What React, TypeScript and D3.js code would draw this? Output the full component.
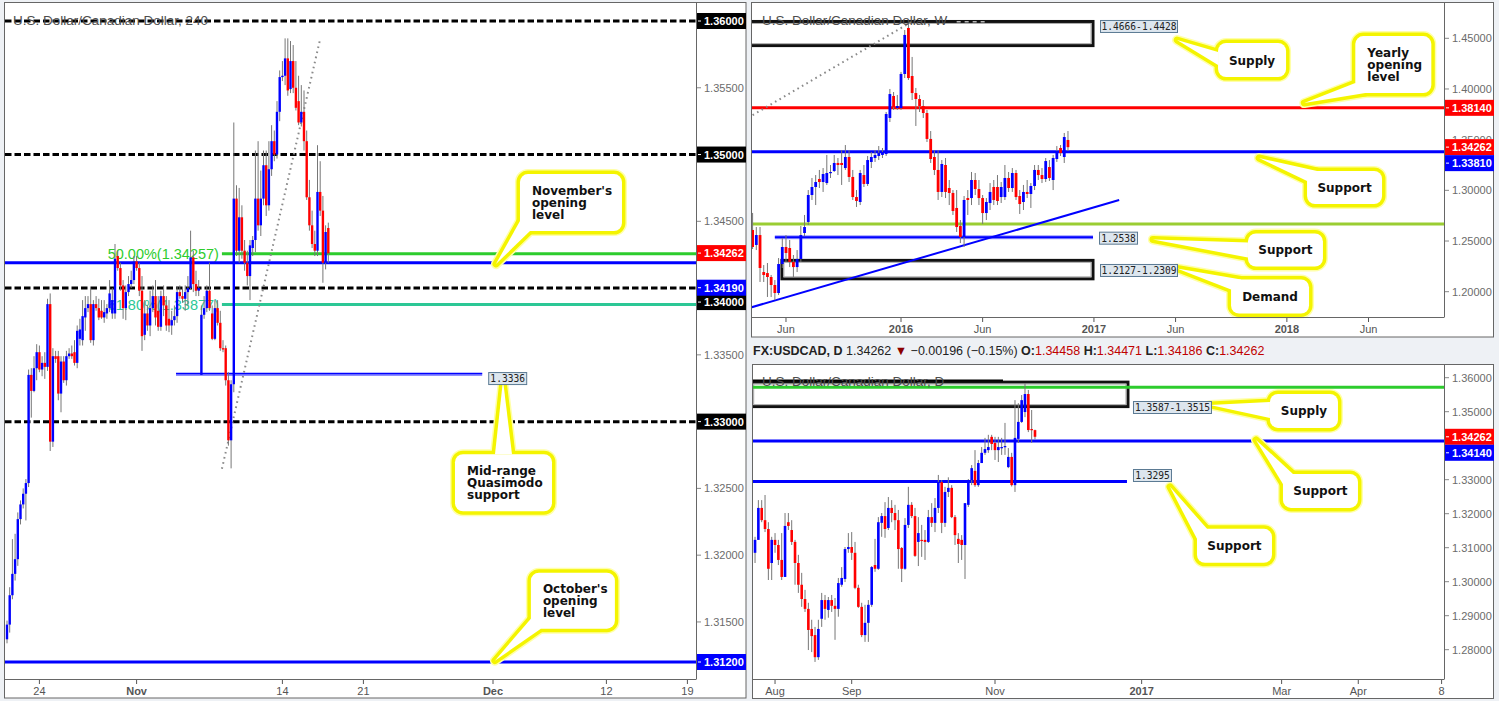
import React from 'react';
import * as d3 from 'd3';

type OHLC = [number, number, number, number];

// ================= 4H panel data =================
const h4Candles: OHLC[] = [
  [1.3137, 1.3151, 1.3134, 1.3148], [1.3148, 1.3176, 1.3142, 1.317], [1.317, 1.3212, 1.3167, 1.3186],
  [1.3186, 1.3216, 1.3181, 1.3197], [1.3197, 1.3232, 1.3192, 1.3227], [1.3227, 1.3241, 1.3223, 1.3238],
  [1.3238, 1.325, 1.3235, 1.3246], [1.3246, 1.3257, 1.3226, 1.3254], [1.3254, 1.3339, 1.3251, 1.3335],
  [1.3335, 1.334, 1.3303, 1.3323], [1.3323, 1.3349, 1.3322, 1.334], [1.334, 1.3358, 1.3331, 1.3352],
  [1.3352, 1.3357, 1.3337, 1.3339], [1.3339, 1.3349, 1.3334, 1.3344], [1.3344, 1.3352, 1.3332, 1.3341],
  [1.3341, 1.3392, 1.3338, 1.3388], [1.3388, 1.3396, 1.3278, 1.3285], [1.3285, 1.3355, 1.3281, 1.3349],
  [1.3349, 1.3353, 1.3344, 1.3347], [1.3349, 1.3353, 1.3316, 1.3321], [1.3321, 1.3349, 1.3307, 1.3345],
  [1.3345, 1.3349, 1.3329, 1.3331], [1.3331, 1.3353, 1.3327, 1.3349], [1.3349, 1.3355, 1.3347, 1.3351],
  [1.3351, 1.3357, 1.3347, 1.3349], [1.3352, 1.3361, 1.3342, 1.3344], [1.3344, 1.3372, 1.334, 1.3368],
  [1.3362, 1.3377, 1.3357, 1.3369], [1.3361, 1.3391, 1.3357, 1.3379], [1.3378, 1.3394, 1.3368, 1.3385],
  [1.3385, 1.3394, 1.3382, 1.3388], [1.3388, 1.34, 1.3359, 1.3361], [1.3361, 1.3391, 1.3357, 1.3388],
  [1.3388, 1.3394, 1.3383, 1.3385], [1.3385, 1.3392, 1.3376, 1.3378], [1.3383, 1.3391, 1.3377, 1.3378],
  [1.3378, 1.3391, 1.3374, 1.3382], [1.3381, 1.3388, 1.3377, 1.3385], [1.3385, 1.3406, 1.3382, 1.3396],
  [1.3381, 1.34, 1.3377, 1.3391], [1.3381, 1.3433, 1.3377, 1.3422], [1.3424, 1.3428, 1.3413, 1.3415],
  [1.3415, 1.3419, 1.3398, 1.3402], [1.3402, 1.3406, 1.3377, 1.3385], [1.3385, 1.3402, 1.3376, 1.3397],
  [1.3397, 1.3409, 1.3394, 1.3403], [1.3403, 1.3413, 1.34, 1.3406], [1.3406, 1.3424, 1.3403, 1.342],
  [1.342, 1.3424, 1.3413, 1.3415], [1.3415, 1.3419, 1.3394, 1.3398], [1.3398, 1.3409, 1.3353, 1.3364],
  [1.3365, 1.3391, 1.3361, 1.3381], [1.3381, 1.3387, 1.3368, 1.3372], [1.3372, 1.3398, 1.3364, 1.3385],
  [1.3385, 1.3402, 1.3382, 1.3394], [1.3394, 1.3406, 1.3372, 1.3378], [1.3383, 1.3394, 1.3368, 1.3371],
  [1.3371, 1.3398, 1.3368, 1.3394], [1.3394, 1.3402, 1.3379, 1.3387], [1.3387, 1.3394, 1.3368, 1.3372],
  [1.3377, 1.3391, 1.3367, 1.3372], [1.3372, 1.3383, 1.3365, 1.3376], [1.3376, 1.3387, 1.3372, 1.3379],
  [1.3379, 1.3401, 1.3374, 1.3397], [1.3397, 1.3402, 1.3392, 1.3394], [1.3394, 1.34, 1.3389, 1.3392],
  [1.3392, 1.3402, 1.3383, 1.3397], [1.3397, 1.3409, 1.3387, 1.34], [1.34, 1.3443, 1.3399, 1.3423],
  [1.3423, 1.3428, 1.3397, 1.3403], [1.3403, 1.3413, 1.3394, 1.3398], [1.3398, 1.3406, 1.3394, 1.34],
  [1.3335, 1.3387, 1.3335, 1.338], [1.338, 1.3394, 1.3377, 1.3385], [1.3385, 1.3402, 1.3382, 1.3398],
  [1.3398, 1.3419, 1.3383, 1.3385], [1.3381, 1.3387, 1.3361, 1.3362], [1.3362, 1.3391, 1.3361, 1.3385],
  [1.3385, 1.3391, 1.3372, 1.3374], [1.3374, 1.3383, 1.3353, 1.3355], [1.3355, 1.3361, 1.3352, 1.3354],
  [1.3355, 1.3357, 1.3327, 1.3331], [1.3331, 1.3337, 1.3282, 1.3286], [1.3286, 1.3331, 1.3265, 1.3328],
  [1.3328, 1.3524, 1.3322, 1.3467], [1.3467, 1.3477, 1.3424, 1.3428], [1.3428, 1.3475, 1.3419, 1.3453],
  [1.3453, 1.3462, 1.3422, 1.3428], [1.3428, 1.3436, 1.3413, 1.3419], [1.3419, 1.3428, 1.3402, 1.3409],
  [1.3409, 1.3436, 1.3391, 1.3432], [1.343, 1.3439, 1.3424, 1.3436], [1.3436, 1.3503, 1.3427, 1.3467],
  [1.3467, 1.351, 1.3443, 1.3447], [1.3447, 1.3488, 1.3439, 1.3467], [1.3467, 1.3503, 1.3462, 1.3492],
  [1.3492, 1.3503, 1.3454, 1.3462], [1.3462, 1.351, 1.3458, 1.3489], [1.3489, 1.3522, 1.3484, 1.351],
  [1.351, 1.3518, 1.3495, 1.35], [1.35, 1.354, 1.3497, 1.3532], [1.3532, 1.3563, 1.3525, 1.3558],
  [1.3558, 1.357, 1.3555, 1.3559], [1.3559, 1.3587, 1.3552, 1.3572], [1.3572, 1.3587, 1.3544, 1.3548],
  [1.3549, 1.3585, 1.3546, 1.357], [1.357, 1.3582, 1.3546, 1.355], [1.355, 1.357, 1.3533, 1.3535],
  [1.354, 1.3559, 1.3522, 1.3524], [1.3524, 1.3552, 1.3521, 1.3532], [1.3532, 1.3548, 1.3503, 1.351],
  [1.351, 1.3518, 1.3466, 1.3468], [1.3468, 1.3481, 1.3443, 1.3447], [1.3447, 1.3458, 1.343, 1.3433],
  [1.3433, 1.3443, 1.3424, 1.3428], [1.3428, 1.3507, 1.3424, 1.3472], [1.3472, 1.3495, 1.3454, 1.3458],
  [1.3458, 1.3469, 1.3404, 1.3419], [1.3419, 1.3447, 1.3414, 1.3442], [1.3445, 1.3449, 1.3419, 1.3426],
];
const h4TickBars = [12, 48, 102, 132, 180, 222, 252];
const h4TickLabels = ['24', 'Nov', '14', '21', 'Dec', '12', '19'];
const h4BoldTicks = ['Nov', 'Dec'];
const h4GridLabels = [1.355, 1.345, 1.335, 1.325, 1.32, 1.315];
const h4RoundLevels = [1.36, 1.35, 1.34, 1.33];
const h4LastPrice = 1.34262;
const h4NovOpen = 1.3419;
const h4OctOpen = 1.312;
const h4Qm = 1.3336;
const h4QmBars = [62.6, 176];
const h4FibLow = 1.32647;
const h4FibHigh = 1.35867;
const h4FibBars = [79.6, 116];
const h4FibRatios = [0.5, 0.618];

// ================= Weekly panel data =================
const wkCandles: OHLC[] = [
  [1.2609, 1.2777, 1.2421, 1.2441], [1.2461, 1.2638, 1.2411, 1.2559], [1.2559, 1.2638, 1.2096, 1.2234],
  [1.2194, 1.2263, 1.2096, 1.2165], [1.2184, 1.2283, 1.1948, 1.2145], [1.2145, 1.2165, 1.1948, 1.2066],
  [1.2066, 1.2115, 1.1918, 1.1987], [1.1987, 1.2332, 1.1967, 1.2273], [1.2273, 1.253, 1.2234, 1.2441],
  [1.2441, 1.2559, 1.2293, 1.2382], [1.2431, 1.251, 1.2243, 1.2293], [1.2293, 1.2362, 1.2135, 1.2243],
  [1.2243, 1.2411, 1.2194, 1.2323], [1.2323, 1.2648, 1.2293, 1.2559], [1.2579, 1.2757, 1.2549, 1.2638],
  [1.2688, 1.3003, 1.2658, 1.2954], [1.2954, 1.3122, 1.2905, 1.3033], [1.3033, 1.3151, 1.2855, 1.3082],
  [1.3112, 1.3201, 1.3023, 1.3082], [1.3082, 1.322, 1.2984, 1.3161], [1.3072, 1.3349, 1.3053, 1.3171],
  [1.3171, 1.325, 1.3122, 1.3181], [1.3191, 1.3349, 1.3181, 1.327], [1.327, 1.3319, 1.3151, 1.325],
  [1.327, 1.3398, 1.3053, 1.325], [1.322, 1.3447, 1.3201, 1.3329], [1.3329, 1.3398, 1.3082, 1.3132],
  [1.3132, 1.3201, 1.2905, 1.2934], [1.2934, 1.3003, 1.2836, 1.2895], [1.2885, 1.3201, 1.2855, 1.3171],
  [1.3151, 1.325, 1.3033, 1.3063], [1.3063, 1.3339, 1.3043, 1.3299], [1.328, 1.3378, 1.322, 1.3329],
  [1.3319, 1.3398, 1.328, 1.3349], [1.3339, 1.3437, 1.3299, 1.3368], [1.3349, 1.3418, 1.3319, 1.3378],
  [1.3358, 1.3773, 1.3339, 1.3753], [1.3714, 1.4, 1.3674, 1.395], [1.3931, 1.397, 1.3793, 1.3822],
  [1.3812, 1.3941, 1.3793, 1.3832], [1.3812, 1.4168, 1.3793, 1.4148], [1.4148, 1.4582, 1.4108, 1.4533],
  [1.4602, 1.464, 1.4089, 1.4108], [1.4128, 1.4316, 1.3891, 1.396], [1.396, 1.401, 1.3635, 1.3901],
  [1.3901, 1.3941, 1.3773, 1.3832], [1.3832, 1.3891, 1.3714, 1.3763], [1.3763, 1.3793, 1.3477, 1.3507],
  [1.3507, 1.3585, 1.327, 1.3309], [1.3329, 1.3398, 1.3151, 1.3201], [1.3201, 1.3398, 1.2905, 1.2984],
  [1.2984, 1.3299, 1.2934, 1.326], [1.325, 1.3319, 1.2924, 1.2984], [1.3023, 1.3102, 1.2855, 1.2974],
  [1.2974, 1.3003, 1.2757, 1.2796], [1.2826, 1.3003, 1.2589, 1.2638], [1.2648, 1.2707, 1.248, 1.254],
  [1.254, 1.2944, 1.2441, 1.2905], [1.2924, 1.3003, 1.2757, 1.2905], [1.2924, 1.3181, 1.2855, 1.3102],
  [1.3102, 1.3171, 1.2954, 1.3013], [1.3013, 1.3102, 1.2855, 1.2924], [1.2924, 1.2954, 1.2668, 1.2776],
  [1.2776, 1.2924, 1.2707, 1.2885], [1.2875, 1.3072, 1.2806, 1.2984], [1.3033, 1.3102, 1.2855, 1.2905],
  [1.3033, 1.3151, 1.2855, 1.2895], [1.2934, 1.3082, 1.2875, 1.3033], [1.2934, 1.325, 1.2905, 1.3122],
  [1.3122, 1.3181, 1.2984, 1.3023], [1.3023, 1.322, 1.2984, 1.3171], [1.3171, 1.3201, 1.2905, 1.2934],
  [1.2944, 1.3003, 1.2767, 1.2865], [1.2885, 1.3053, 1.2806, 1.2984], [1.2984, 1.3102, 1.2924, 1.2964],
  [1.2964, 1.3072, 1.2826, 1.3043], [1.3043, 1.325, 1.3003, 1.3201], [1.3201, 1.325, 1.3102, 1.3151],
  [1.3151, 1.322, 1.3072, 1.3112], [1.3112, 1.3319, 1.3082, 1.3289], [1.323, 1.3299, 1.3092, 1.3122],
  [1.3102, 1.3349, 1.3003, 1.3319], [1.3309, 1.3437, 1.328, 1.3388], [1.3418, 1.3447, 1.3339, 1.3368],
  [1.3329, 1.3566, 1.327, 1.3526], [1.3497, 1.3585, 1.3388, 1.3426],
];
const wkTickBars = [9, 40, 62, 92, 114, 144, 166];
const wkTickLabels = ['Jun', '2016', 'Jun', '2017', 'Jun', '2018', 'Jun'];
const wkBoldTicks = ['2016', '2017', '2018'];
const wkGridLabels = [1.45, 1.4, 1.35, 1.3, 1.25, 1.2];
const wkLastPrice = 1.34262;
const wkYearlyOpen = 1.3814;
const wkSupport = 1.3381;
const wkGreenLevel = 1.2668;
const wkSupport2 = 1.2538;
const wkSupport2Bars = [6, 91.75];
const wkSupplyZone = [1.4428, 1.4666];
const wkSupplyBars = [-1, 91.75];
const wkDemandZone = [1.2127, 1.2309];
const wkDemandBars = [7.9, 91.75];
const wkTrendBars = [-0.2, 98.8];
const wkTrendPrices = [1.1847, 1.2905];
const wkDottedBars = [0, 44.6];
const wkDottedPrices = [1.3742, 1.47];
const wkDottedTailBars = [55, 63.2];
const wkDottedTailPrice = 1.4663;

// ================= Daily panel data =================
const dCandles: OHLC[] = [
  [1.3085, 1.3132, 1.3055, 1.3123], [1.3123, 1.324, 1.3123, 1.3217], [1.3217, 1.324, 1.3175, 1.3181],
  [1.3181, 1.3255, 1.3146, 1.3155], [1.3155, 1.3175, 1.3005, 1.3038], [1.3055, 1.3132, 1.3005, 1.3123],
  [1.3123, 1.3143, 1.3085, 1.3108], [1.3108, 1.3123, 1.3049, 1.3064], [1.3064, 1.3143, 1.3005, 1.3014],
  [1.3014, 1.3202, 1.3014, 1.3164], [1.3175, 1.3202, 1.3152, 1.3164], [1.3152, 1.3181, 1.3108, 1.3117],
  [1.3117, 1.3123, 1.2991, 1.3055], [1.3055, 1.3079, 1.2967, 1.2991], [1.2991, 1.3026, 1.2926, 1.2949],
  [1.2949, 1.2976, 1.2911, 1.292], [1.292, 1.2938, 1.2799, 1.2858], [1.2861, 1.2888, 1.2793, 1.284],
  [1.2843, 1.2867, 1.2764, 1.2778], [1.2778, 1.2888, 1.277, 1.2861], [1.2891, 1.2967, 1.2867, 1.2946],
  [1.2946, 1.2961, 1.2888, 1.292], [1.2917, 1.2955, 1.2894, 1.2946], [1.2946, 1.2961, 1.2911, 1.2929],
  [1.2929, 1.2952, 1.2829, 1.292], [1.292, 1.3011, 1.2897, 1.2996], [1.2991, 1.3043, 1.2985, 1.3011],
  [1.3008, 1.3102, 1.2999, 1.3096], [1.3096, 1.3143, 1.3085, 1.3102], [1.3102, 1.3146, 1.3064, 1.3085],
  [1.3085, 1.3117, 1.2978, 1.2982], [1.2982, 1.2991, 1.2923, 1.2926], [1.2926, 1.2938, 1.2837, 1.2843],
  [1.2843, 1.2932, 1.2823, 1.2879], [1.2879, 1.2946, 1.2823, 1.2932], [1.2932, 1.3046, 1.2926, 1.3043],
  [1.3049, 1.3126, 1.3029, 1.3038], [1.3038, 1.319, 1.3035, 1.3175], [1.3173, 1.3202, 1.3132, 1.3193],
  [1.3193, 1.3234, 1.3129, 1.3155], [1.3158, 1.3249, 1.3152, 1.3217], [1.3217, 1.324, 1.3175, 1.3202],
  [1.3202, 1.3226, 1.3152, 1.3181], [1.3181, 1.3211, 1.3038, 1.3096], [1.3099, 1.3102, 1.2999, 1.3038],
  [1.3038, 1.3187, 1.3035, 1.3167], [1.3167, 1.3279, 1.3158, 1.3226], [1.3226, 1.3234, 1.3187, 1.3193],
  [1.3193, 1.3217, 1.3073, 1.3076], [1.3117, 1.319, 1.3046, 1.3143], [1.3123, 1.3167, 1.3073, 1.312],
  [1.3123, 1.3152, 1.3064, 1.3117], [1.3117, 1.3211, 1.3114, 1.319], [1.319, 1.3231, 1.3161, 1.3173],
  [1.3173, 1.3246, 1.3146, 1.3217], [1.3217, 1.3314, 1.3202, 1.3293], [1.3293, 1.3299, 1.3143, 1.3173],
  [1.3173, 1.3279, 1.3161, 1.3264], [1.3264, 1.3307, 1.3249, 1.3276], [1.3276, 1.3284, 1.3187, 1.319],
  [1.319, 1.3196, 1.3108, 1.3137], [1.3126, 1.3143, 1.3055, 1.3111], [1.3123, 1.3137, 1.3064, 1.3108],
  [1.3108, 1.3231, 1.3008, 1.3231], [1.3226, 1.3302, 1.322, 1.3299], [1.3299, 1.3343, 1.3284, 1.3334],
  [1.3326, 1.3387, 1.3279, 1.3284], [1.3284, 1.3358, 1.3279, 1.3349], [1.3349, 1.3396, 1.3349, 1.3379],
  [1.3379, 1.3423, 1.3373, 1.339], [1.3387, 1.3432, 1.3379, 1.3396], [1.3426, 1.3432, 1.3387, 1.3405],
  [1.3408, 1.3426, 1.3358, 1.3387], [1.3387, 1.3426, 1.3352, 1.3396], [1.3393, 1.3423, 1.3373, 1.3396],
  [1.3396, 1.3467, 1.3373, 1.3399], [1.3337, 1.3393, 1.3334, 1.3367], [1.3367, 1.3379, 1.328, 1.3284],
  [1.3284, 1.3534, 1.3264, 1.3423], [1.342, 1.3525, 1.3408, 1.347], [1.347, 1.3549, 1.3467, 1.3534],
  [1.3499, 1.3584, 1.3484, 1.3552], [1.3552, 1.3564, 1.344, 1.3446], [1.3449, 1.3505, 1.3408, 1.34458],
  [1.34458, 1.34471, 1.34186, 1.34262],
];
const dTickBars = [6, 29, 72, 116, 158, 181, 206];
const dTickLabels = ['Aug', 'Sep', 'Nov', '2017', 'Mar', 'Apr', '8'];
const dBoldTicks = ['2017'];
const dGridLabels = [1.36, 1.35, 1.33, 1.32, 1.31, 1.3, 1.29, 1.28];
const dSupport = 1.3414;
const dGreenLevel = 1.3572;
const dSupport2 = 1.3295;
const dSupport2Bars = [-1, 111.6];
const dSupplyZone = [1.3515, 1.3587];
const dSupplyBars = [-1, 111.9];
const dSupplyTopBars = [-1, 74.4];

// ================= styling constants =================
const PAGE_BG = '#eef1f5';
const BLUE = '#0000ff';
const RED = '#ff0000';
const FONT = "'Liberation Sans', Arial, sans-serif";
const CALLOUT_FONT = "'DejaVu Sans', Verdana, sans-serif";

function Candles({ data, x, y, w }: any) {
  return (
    <g>
      {data.map((d: OHLC, i: number) => {
        const [o, h, l, c] = d;
        const cx = x(i);
        const top = y(Math.max(o, c));
        const bot = y(Math.min(o, c));
        return (
          <g key={i}>
            <line x1={cx} x2={cx} y1={y(h)} y2={y(l)} stroke="#777" strokeWidth={1} />
            <rect x={cx - w / 2} y={top} width={w} height={Math.max(1.2, bot - top)} fill={c >= o ? BLUE : RED} />
          </g>
        );
      })}
    </g>
  );
}

function GrayLabel({ x0, y, text }: any) {
  return (
    <g>
      <line x1={x0} x2={x0 + 4} y1={y} y2={y} stroke="#888" />
      <text x={x0 + 7} y={y + 4} fontSize={11} fill="#6b6b6b" fontFamily={FONT}>{text}</text>
    </g>
  );
}

function BoxLabel({ x0, y, text, bg }: any) {
  return (
    <g>
      <rect x={x0} y={y - 8} width={49} height={16} fill={bg} />
      <line x1={x0 + 1} x2={x0 + 4} y1={y} y2={y} stroke="#fff" />
      <text x={x0 + 7} y={y + 4} fontSize={11} fontWeight="bold" fill="#fff" fontFamily={FONT}>{text}</text>
    </g>
  );
}

function NoteBox({ x, y, w, text }: any) {
  return (
    <g>
      <rect x={x + 0.5} y={y + 0.5} width={w} height={12} fill="#dde6ee" stroke="#5b7a93" strokeWidth={1} />
      <text x={x + w / 2 + 0.5} y={y + 10} textAnchor="middle" fontSize={9.6} fill="#222"
        fontFamily="'DejaVu Sans Mono', monospace">{text}</text>
    </g>
  );
}

function Callout({ tip, box, base, lines }: any) {
  const [tx, ty] = tip;
  const [bx, by, bw, bh] = box;
  let p1: number[], p2: number[];
  if (base[0] === 'bl') { p1 = [bx, by + bh - 10]; p2 = [bx + 10, by + bh]; }
  else if (base[0] === 'tl') { p1 = [bx, by + 10]; p2 = [bx + 10, by]; }
  else if (base[0] === 'top') { p1 = [bx + base[1], by]; p2 = [bx + base[2], by]; }
  else { p1 = [bx, by + base[1]]; p2 = [bx, by + base[2]]; }
  const wedge = `M${p1[0]},${p1[1]} L${tx},${ty} L${p2[0]},${p2[1]} Z`;
  const shapes = (stroke: string, sw: number, fill: string) => (
    <g>
      <path d={wedge} fill={fill} stroke={stroke} strokeWidth={sw} strokeLinejoin="round" />
      <rect x={bx} y={by} width={bw} height={bh} rx={8} ry={8} fill={fill} stroke={stroke} strokeWidth={sw} />
    </g>
  );
  const multi = lines.length > 1;
  const lh = 12;
  const firstY = by + bh / 2 - ((lines.length - 1) * lh) / 2 + 4.5;
  return (
    <g>
      {shapes('#ffffa8', 10, 'none')}
      {shapes('#f4f400', 7, 'none')}
      {shapes('none', 0, '#ffffff')}
      {lines.map((t: string, i: number) => (
        <text key={i} x={multi ? bx + 12 : bx + bw / 2} y={firstY + i * lh} textAnchor={multi ? 'start' : 'middle'}
          fontSize={12} fontWeight="bold" fill="#111" fontFamily={CALLOUT_FONT}>{t}</text>
      ))}
    </g>
  );
}

function XAxis({ bars, labels, bold, x, y0 }: any) {
  return (
    <g>
      {bars.map((b: number, i: number) => (
        <g key={i}>
          <line x1={x(b)} x2={x(b)} y1={y0} y2={y0 + 4} stroke="#555" />
          <text x={x(b)} y={y0 + 15} textAnchor="middle" fontSize={11} fill="#555"
            fontWeight={bold.includes(labels[i]) ? 'bold' : 'normal'} fontFamily={FONT}>{labels[i]}</text>
        </g>
      ))}
    </g>
  );
}

export default function App() {
  // ---- scales ----
  const h4X = d3.scaleLinear().domain([0, 252]).range([7, 687.4]);
  const h4Y = d3.scaleLinear().domain([1.312, 1.36]).range([662, 21]);
  const wkX = d3.scaleLinear().domain([0, 166]).range([752.6, 1368.5]);
  const wkY = d3.scaleLinear().domain([1.2, 1.45]).range([291.7, 38.3]);
  const dX = d3.scaleLinear().domain([72, 206]).range([995, 1441.6]);
  const dY = d3.scaleLinear().domain([1.28, 1.36]).range([649.7, 377.7]);

  const L = { l: 5, r: 696, t: 3, b: 679 };
  const W = { l: 752, r: 1444, t: 3, b: 317 };
  const D = { l: 753, r: 1444, t: 365, b: 679 };

  const fmt5 = (v: number) => v.toFixed(5);
  const fibLevels = h4FibRatios.map((r) => ({ r, v: h4FibHigh - r * (h4FibHigh - h4FibLow) }));
  const fibColors = ['#2dcc2d', '#2cc795'];

  const h4Callouts = [
    { lines: ["November's", 'opening', 'level'], tip: [181.1, 1.3418], off: [24, -90, 102, 57], base: ['bl'] },
    { lines: ['Mid-range', 'Quasimodo', 'support'], tip: [183.7, 1.3331], off: [-48, 74, 97, 57], base: ['top', 40, 57] },
    { lines: ["October's", 'opening', 'level'], tip: [180.7, 1.3121], off: [36, -88, 84, 56], base: ['bl'] },
  ];
  const wkCallouts = [
    { lines: ['Supply'], tip: [114.4, 1.4483], off: [41, 3, 68, 34], base: ['left', 9, 22] },
    { lines: ['Yearly', 'opening', 'level'], tip: [148.7, 1.3861], off: [51, -67, 76, 57], base: ['bl'] },
    { lines: ['Support'], tip: [136.5, 1.3319], off: [48, 13, 75, 33], base: ['tl'] },
    { lines: ['Support'], tip: [107.9, 1.2515], off: [95, -6, 75, 33], base: ['left', 9, 24] },
    { lines: ['Demand'], tip: [114.4, 1.2229], off: [54, 11, 78, 34], base: ['tl'] },
  ];
  const dCallouts = [
    { lines: ['Supply'], tip: [136.5, 1.352], off: [60, -11, 68, 34], base: ['left', 8, 24] },
    { lines: ['Support'], tip: [150.3, 1.3417], off: [27, 34, 75, 34], base: ['tl'] },
    { lines: ['Support'], tip: [124.5, 1.3279], off: [27, 42, 75, 34], base: ['tl'] },
  ];
  const renderCallouts = (list: any[], x: any, y: any) =>
    list.map((c, i) => {
      const tx = x(c.tip[0]);
      const ty = y(c.tip[1]);
      return <Callout key={i} tip={[tx, ty]} box={[tx + c.off[0], ty + c.off[1], c.off[2], c.off[3]]} base={c.base} lines={c.lines} />;
    });

  const last = dCandles[dCandles.length - 1];
  const prevClose = dCandles[dCandles.length - 2][3];
  const chg = last[3] - prevClose;
  const chgPct = (chg / prevClose) * 100;
  const minus = (v: number, d: number) => (v < 0 ? '\u2212' : '+') + Math.abs(v).toFixed(d);

  const dashed = { stroke: '#000', strokeWidth: 3, strokeDasharray: '6.5 3' };

  return (
    <div style={{ position: 'fixed', left: 0, top: 0 }}>
      <svg width={1499} height={701} style={{ display: 'block' }} fontFamily={FONT}>
        <defs>
          <clipPath id="clipL"><rect x={L.l} y={L.t} width={L.r - L.l} height={L.b - L.t} /></clipPath>
          <clipPath id="clipW"><rect x={W.l} y={W.t} width={W.r - W.l} height={W.b - W.t} /></clipPath>
          <clipPath id="clipD"><rect x={D.l} y={D.t} width={D.r - D.l} height={D.b - D.t} /></clipPath>
          <clipPath id="clipW135"><rect x={1445} y={0} width={50} height={wkY(1.34262) - 8} /></clipPath>
        </defs>
        <rect width={1499} height={701} fill={PAGE_BG} />

        {/* ================= LEFT 4H PANEL ================= */}
        <rect x={4.5} y={2.5} width={741.5} height={695.5} fill="#fff" stroke="#666" />
        <g clipPath="url(#clipL)">
          {fibLevels.map((f, i) => (
            <g key={i}>
              <line x1={h4X(h4FibBars[0])} x2={L.r} y1={h4Y(f.v)} y2={h4Y(f.v)} stroke={fibColors[i]} strokeWidth={3} />
              <text x={h4X(h4FibBars[0]) - 3} y={h4Y(f.v) + 5} textAnchor="end" fontSize={14.5} fill={fibColors[i]}>
                {`${(f.r * 100).toFixed(2)}%(${fmt5(f.v)})`}
              </text>
            </g>
          ))}
          {h4RoundLevels.map((v) => (
            <line key={v} x1={L.l} x2={L.r} y1={h4Y(v)} y2={h4Y(v)} {...dashed} />
          ))}
          <line x1={L.l} x2={L.r} y1={h4Y(h4NovOpen)} y2={h4Y(h4NovOpen)} stroke={BLUE} strokeWidth={3} />
          <line x1={L.l} x2={L.r} y1={h4Y(h4OctOpen)} y2={h4Y(h4OctOpen)} stroke={BLUE} strokeWidth={3} />
          <line x1={h4X(h4QmBars[0])} x2={h4X(h4QmBars[1])} y1={h4Y(h4Qm) + 1} y2={h4Y(h4Qm) + 1} stroke="#8f8fff" strokeWidth={3} />
          <line x1={h4X(h4QmBars[0])} x2={h4X(h4QmBars[1])} y1={h4Y(h4Qm)} y2={h4Y(h4Qm)} stroke={BLUE} strokeWidth={1.6} />
          <line x1={h4X(h4FibBars[0])} y1={h4Y(h4FibLow)} x2={h4X(h4FibBars[1])} y2={h4Y(h4FibHigh)}
            stroke="#8a8a8a" strokeWidth={2} strokeDasharray="1.6 3.6" />
          <Candles data={h4Candles} x={h4X} y={h4Y} w={2.4} />
        </g>
        <text x={13} y={25} fontSize={13.5} fill="#4d4d4d">U.S. Dollar/Canadian Dollar, 240</text>
        {renderCallouts(h4Callouts, h4X, h4Y)}
        <NoteBox x={h4X(h4QmBars[1]) + 6} y={h4Y(h4Qm) - 1.5} w={38} text={h4Qm.toFixed(4)} />
        <line x1={L.r + 0.5} x2={L.r + 0.5} y1={2.5} y2={L.b} stroke="#666" />
        <line x1={4.5} x2={L.r + 0.5} y1={L.b + 0.5} y2={L.b + 0.5} stroke="#666" />
        {h4GridLabels.map((v) => <GrayLabel key={v} x0={697} y={h4Y(v)} text={fmt5(v)} />)}
        {h4RoundLevels.map((v) => (
          <BoxLabel key={v} x0={697} y={h4Y(v) + (v === 1.34 ? 14 : 0)} text={fmt5(v)} bg="#000" />
        ))}
        <BoxLabel x0={697} y={h4Y(h4LastPrice)} text={fmt5(h4LastPrice)} bg={RED} />
        <BoxLabel x0={697} y={h4Y(h4NovOpen) + 25} text={fmt5(h4NovOpen)} bg={BLUE} />
        <BoxLabel x0={697} y={h4Y(h4OctOpen)} text={fmt5(h4OctOpen)} bg={BLUE} />
        <XAxis bars={h4TickBars} labels={h4TickLabels} bold={h4BoldTicks} x={h4X} y0={L.b + 1} />

        {/* ================= WEEKLY PANEL ================= */}
        <rect x={751.5} y={2.5} width={742} height={334.5} fill="#fff" stroke="#666" />
        <g clipPath="url(#clipW)">
          <line x1={W.l} x2={W.r} y1={wkY(wkYearlyOpen)} y2={wkY(wkYearlyOpen)} stroke={RED} strokeWidth={3} />
          <line x1={W.l} x2={W.r} y1={wkY(wkSupport)} y2={wkY(wkSupport)} stroke={BLUE} strokeWidth={3} />
          <line x1={W.l} x2={W.r} y1={wkY(wkGreenLevel)} y2={wkY(wkGreenLevel)} stroke="#9acd32" strokeWidth={3} />
          <line x1={wkX(wkSupport2Bars[0])} x2={wkX(wkSupport2Bars[1])} y1={wkY(wkSupport2)} y2={wkY(wkSupport2)} stroke="#9a9aff" strokeWidth={4} />
          <line x1={wkX(wkSupport2Bars[0])} x2={wkX(wkSupport2Bars[1])} y1={wkY(wkSupport2)} y2={wkY(wkSupport2)} stroke={BLUE} strokeWidth={2} />
          {[[wkSupplyZone, wkSupplyBars], [wkDemandZone, wkDemandBars]].map(([z, b]: any, i) => (
            <g key={i}>
              <rect x={wkX(b[0])} y={wkY(z[1])} width={wkX(b[1]) - wkX(b[0])} height={wkY(z[0]) - wkY(z[1])}
                fill="none" stroke="#111" strokeWidth={3} />
              <rect x={wkX(b[0]) + 2} y={wkY(z[1]) + 2} width={wkX(b[1]) - wkX(b[0]) - 4} height={wkY(z[0]) - wkY(z[1]) - 4}
                fill="none" stroke="#aaa" strokeWidth={1} />
            </g>
          ))}
          <line x1={wkX(wkTrendBars[0])} y1={wkY(wkTrendPrices[0])} x2={wkX(wkTrendBars[1])} y2={wkY(wkTrendPrices[1])} stroke={BLUE} strokeWidth={2} />
          <line x1={wkX(wkDottedBars[0])} y1={wkY(wkDottedPrices[0])} x2={wkX(wkDottedBars[1])} y2={wkY(wkDottedPrices[1])}
            stroke="#8a8a8a" strokeWidth={2} strokeDasharray="1.6 3.6" />
          <line x1={wkX(wkDottedTailBars[0])} x2={wkX(wkDottedTailBars[1])} y1={wkY(wkDottedTailPrice)} y2={wkY(wkDottedTailPrice)}
            stroke="#b5b5b5" strokeWidth={1.5} strokeDasharray="4 4" />
          <Candles data={wkCandles} x={wkX} y={wkY} w={2.8} />
        </g>
        <text x={762} y={25} fontSize={13.5} fill="#4d4d4d">U.S. Dollar/Canadian Dollar, W</text>
        {renderCallouts(wkCallouts, wkX, wkY)}
        <NoteBox x={wkX(wkSupplyBars[1]) + 7} y={wkY(wkSupplyZone[1]) - 1.5} w={77} text={`${wkSupplyZone[1].toFixed(4)}-${wkSupplyZone[0].toFixed(4)}`} />
        <NoteBox x={wkX(wkSupport2Bars[1]) + 6} y={wkY(wkSupport2) - 5.5} w={38} text={wkSupport2.toFixed(4)} />
        <NoteBox x={wkX(wkDemandBars[1]) + 7} y={wkY(wkDemandZone[1]) + 3.6} w={77} text={`${wkDemandZone[0].toFixed(4)}-${wkDemandZone[1].toFixed(4)}`} />
        <line x1={W.r + 0.5} x2={W.r + 0.5} y1={2.5} y2={W.b} stroke="#666" />
        <line x1={751.5} x2={W.r + 0.5} y1={W.b + 0.5} y2={W.b + 0.5} stroke="#666" />
        {wkGridLabels.map((v) =>
          v === 1.35 ? (
            <g key={v} clipPath="url(#clipW135)"><GrayLabel x0={1445} y={wkY(v)} text={fmt5(v)} /></g>
          ) : (
            <GrayLabel key={v} x0={1445} y={wkY(v)} text={fmt5(v)} />
          )
        )}
        <BoxLabel x0={1445} y={wkY(wkYearlyOpen)} text={fmt5(wkYearlyOpen)} bg={RED} />
        <BoxLabel x0={1445} y={wkY(wkLastPrice)} text={fmt5(wkLastPrice)} bg={RED} />
        <BoxLabel x0={1445} y={wkY(wkLastPrice) + 16} text={fmt5(wkSupport)} bg={BLUE} />
        <XAxis bars={wkTickBars} labels={wkTickLabels} bold={wkBoldTicks} x={wkX} y0={W.b + 1} />

        {/* ================= DAILY PANEL ================= */}
        <text x={753} y={355} fontSize={12.5} fill="#222">
          <tspan fontWeight="bold">FX:USDCAD, D</tspan>
          <tspan>{` ${fmt5(last[3])} `}</tspan>
          <tspan fill="#8b0000">{chg < 0 ? '\u25BC' : '\u25B2'}</tspan>
          <tspan>{` ${minus(chg, 5)} (${minus(chgPct, 2)}%) `}</tspan>
          <tspan fontWeight="bold">O:</tspan><tspan fill="#c00000">{fmt5(last[0])}</tspan>
          <tspan fontWeight="bold">{' H:'}</tspan><tspan fill="#c00000">{fmt5(last[1])}</tspan>
          <tspan fontWeight="bold">{' L:'}</tspan><tspan fill="#c00000">{fmt5(last[2])}</tspan>
          <tspan fontWeight="bold">{' C:'}</tspan><tspan fill="#c00000">{fmt5(last[3])}</tspan>
        </text>
        <rect x={752.5} y={364.5} width={741} height={334} fill="#fff" stroke="#666" />
        <g clipPath="url(#clipD)">
          <rect x={dX(dSupplyBars[0])} y={dY(dSupplyZone[1])} width={dX(dSupplyBars[1]) - dX(dSupplyBars[0])}
            height={dY(dSupplyZone[0]) - dY(dSupplyZone[1])} fill="none" stroke="#111" strokeWidth={3} />
          <rect x={dX(dSupplyBars[0]) + 2} y={dY(dSupplyZone[1]) + 2} width={dX(dSupplyBars[1]) - dX(dSupplyBars[0]) - 4}
            height={dY(dSupplyZone[0]) - dY(dSupplyZone[1]) - 4} fill="none" stroke="#aaa" strokeWidth={1} />
          <line x1={dX(dSupplyTopBars[0])} x2={dX(dSupplyTopBars[1])} y1={dY(dSupplyZone[1]) - 1.5} y2={dY(dSupplyZone[1]) - 1.5}
            stroke="#000" strokeWidth={2} />
          <line x1={D.l} x2={D.r} y1={dY(dGreenLevel)} y2={dY(dGreenLevel)} stroke="#2dcc2d" strokeWidth={3} />
          <line x1={D.l} x2={D.r} y1={dY(dSupport)} y2={dY(dSupport)} stroke={BLUE} strokeWidth={3} />
          <line x1={dX(dSupport2Bars[0])} x2={dX(dSupport2Bars[1])} y1={dY(dSupport2)} y2={dY(dSupport2)} stroke={BLUE} strokeWidth={3} />
          <Candles data={dCandles} x={dX} y={dY} w={2.6} />
        </g>
        <text x={762} y={386} fontSize={13.5} fill="#4d4d4d">U.S. Dollar/Canadian Dollar, D</text>
        {renderCallouts(dCallouts, dX, dY)}
        <NoteBox x={dX(dSupplyBars[1]) + 5} y={dY(dSupplyZone[0]) - 5.6} w={78} text={`${dSupplyZone[1].toFixed(4)}-${dSupplyZone[0].toFixed(4)}`} />
        <NoteBox x={dX(dSupport2Bars[1]) + 6} y={dY(dSupport2) - 12.4} w={38} text={dSupport2.toFixed(4)} />
        <line x1={D.r + 0.5} x2={D.r + 0.5} y1={364.5} y2={D.b} stroke="#666" />
        <line x1={752.5} x2={D.r + 0.5} y1={D.b + 0.5} y2={D.b + 0.5} stroke="#666" />
        {dGridLabels.map((v) => <GrayLabel key={v} x0={1445} y={dY(v)} text={fmt5(v)} />)}
        <BoxLabel x0={1445} y={dY(last[3])} text={fmt5(last[3])} bg={RED} />
        <BoxLabel x0={1445} y={dY(last[3]) + 16} text={fmt5(dSupport)} bg={BLUE} />
        <XAxis bars={dTickBars} labels={dTickLabels} bold={dBoldTicks} x={dX} y0={D.b + 1} />
      </svg>
    </div>
  );
}
